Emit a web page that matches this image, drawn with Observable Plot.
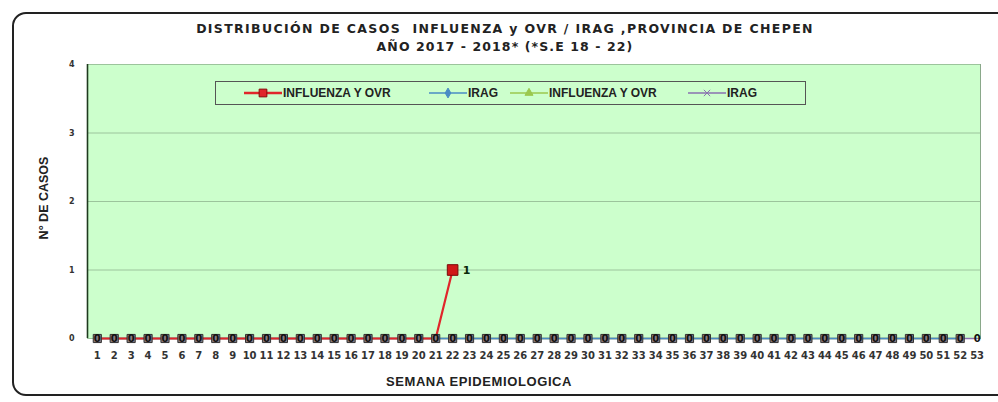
<!DOCTYPE html>
<html><head><meta charset="utf-8">
<script src="https://cdn.jsdelivr.net/npm/d3@7"></script>
<script src="https://cdn.jsdelivr.net/npm/@observablehq/plot@0.6"></script>
<style>
body{margin:0;background:#fff;}
#wrap{position:relative;width:998px;height:402px;overflow:hidden;font-family:"DejaVu Sans",sans-serif;}
#frame{position:absolute;left:12px;top:12px;width:1000px;height:384px;border:2px solid #222;border-radius:14px;box-sizing:border-box;}
.t{position:absolute;font-weight:bold;color:#222;white-space:nowrap;}
#legend{position:absolute;left:215px;top:81px;width:591px;height:24px;border:1.3px solid #555;box-sizing:border-box;background:#ccffcc;}
.li{position:absolute;top:4px;font-family:"Liberation Sans Narrow","Liberation Sans",sans-serif;font-weight:bold;font-size:12px;color:#222;display:flex;align-items:center;}
.li svg{margin-right:1px}
</style></head>
<body>
<div id="wrap">
  <div id="frame"></div>
  <div id="chart" style="position:absolute;left:0;top:0"></div>
  <div class="t" id="title1" style="left:0;width:1010px;text-align:center;top:21px;font-size:12.5px;letter-spacing:1.35px;font-family:'DejaVu Sans',sans-serif;">DISTRIBUCIÓN DE CASOS&nbsp; INFLUENZA y OVR / IRAG ,PROVINCIA DE CHEPEN</div>
  <div class="t" id="title2" style="left:0;width:1010px;text-align:center;top:39px;font-size:12.5px;letter-spacing:1.1px;">AÑO 2017 - 2018* (*S.E 18 - 22)</div>
  <div class="t" style="left:44px;top:198px;font-size:12.5px;font-family:'Liberation Sans',sans-serif;transform:translate(-50%,-50%) rotate(-90deg);transform-origin:center;position:absolute;">N° DE CASOS</div>
  <div class="t" style="left:0;width:958px;text-align:center;top:374px;font-size:13px;font-family:'Liberation Sans',sans-serif;letter-spacing:0.6px;">SEMANA EPIDEMIOLOGICA</div>
  <div id="legend"></div>
</div>
<script>
const weeks = d3.range(1, 54);
const seriesNames = ["INFLUENZA Y OVR", "IRAG", "INFLUENZA Y OVR", "IRAG"];
const seriesColors = ["#e0262b", "#4a8cc4", "#9bc84f", "#8a72b0"];
// 2018 INFLUENZA Y OVR (weeks 1-22)
const influenza2018 = [0,0,0,0,0,0,0,0,0,0,0,0,0,0,0,0,0,0,0,0,0,1];
// 2018 IRAG (weeks 1-52)
const irag2018 = [0,0,0,0,0,0,0,0,0,0,0,0,0,0,0,0,0,0,0,0,0,0,0,0,0,0,0,0,0,0,0,0,0,0,0,0,0,0,0,0,0,0,0,0,0,0,0,0,0,0,0,0];
// 2017 INFLUENZA Y OVR (weeks 1-52)
const influenza2017 = [0,0,0,0,0,0,0,0,0,0,0,0,0,0,0,0,0,0,0,0,0,0,0,0,0,0,0,0,0,0,0,0,0,0,0,0,0,0,0,0,0,0,0,0,0,0,0,0,0,0,0,0];
// 2017 IRAG (weeks 1-53)
const irag2017 = [0,0,0,0,0,0,0,0,0,0,0,0,0,0,0,0,0,0,0,0,0,0,0,0,0,0,0,0,0,0,0,0,0,0,0,0,0,0,0,0,0,0,0,0,0,0,0,0,0,0,0,0,0];
const yTicks = [0,1,2,3,4];

const toRows = (vals, s) => vals.map((v, i) => ({week: weeks[i], value: v, s}));
const rows = [toRows(influenza2018,0), toRows(irag2018,1), toRows(influenza2017,2), toRows(irag2017,3)];
const zeroMarkers = rows[1];
const labelZeros = rows[3];
const labelOnes = rows[0].filter(d => d.value > 0);

const plot = Plot.plot({
  width: 998, height: 402,
  marginLeft: 87, marginRight: 18, marginTop: 64, marginBottom: 64,
  style: {background: "transparent", fontFamily: "DejaVu Sans, sans-serif", overflow: "visible"},
  x: {type: "linear", domain: [0.42, 53.2]},
  y: {domain: [0, 4]},
  marks: [
    Plot.frame({fill: "#ccffcc", stroke: "#8aa88a"}),
    Plot.gridY(yTicks, {stroke: "#9cc49c", strokeOpacity: 1, strokeWidth: 1}),
    Plot.ruleX([0.42], {stroke: "#1e3a1e", strokeWidth: 1.6}),
    Plot.axisY(yTicks, {tickSize: 0, tickPadding: 13, fontSize: 8, fontWeight: "bold", color: "#333", label: null, tickFormat: d => d}),
    Plot.axisX(weeks, {tickSize: 0, tickPadding: 13, fontSize: 10, fontWeight: "bold", color: "#333", label: null, tickFormat: d => d}),
    // lines
    Plot.line(rows[3], {x: "week", y: "value", stroke: seriesColors[3], strokeWidth: 1.5}),
    Plot.line(rows[2], {x: "week", y: "value", stroke: seriesColors[2], strokeWidth: 1.5}),
    Plot.line(rows[1], {x: "week", y: "value", stroke: seriesColors[1], strokeWidth: 1.5}),
    Plot.line(rows[0], {x: "week", y: "value", stroke: seriesColors[0], strokeWidth: 2.2}),
    // markers
    Plot.dot(zeroMarkers, {x: "week", y: "value", symbol: "square", r: 4.6, fill: "#8a7c82", stroke: "#333", strokeWidth: 1}),
    Plot.dot(rows[0].filter(d => d.value > 0), {x: "week", y: "value", symbol: "square", r: 6, fill: "#d01818", stroke: "#7a0a0a", strokeWidth: 1}),
    // data labels
    Plot.text(labelZeros, {x: "week", y: "value", text: d => String(d.value), fontSize: 10, fontWeight: "bold", fill: "#111"}),
    Plot.text(labelOnes, {x: "week", y: "value", text: d => String(d.value), dx: 14, fontSize: 11, fontWeight: "bold", fill: "#0a2a0a"})
  ]
});
document.getElementById("chart").appendChild(plot);

// legend
const lg = document.getElementById("legend");
const legendX = [28, 213, 294, 472];
seriesNames.forEach((name, i) => {
  const div = document.createElement("div");
  div.className = "li";
  div.style.left = legendX[i] + "px";
  const sym = d3.symbol(i === 0 ? d3.symbolSquare : i === 1 ? d3.symbolDiamond : i === 2 ? d3.symbolTriangle : d3.symbolTimes, i === 0 ? 60 : 28)();
  div.innerHTML = `<svg width="38" height="14"><line x1="0" x2="38" y1="7" y2="7" stroke="${seriesColors[i]}" stroke-width="${i===0?2.5:1.6}"/><path d="${sym}" transform="translate(19,7)" fill="${seriesColors[i]}" stroke="${i===0?'#8a0a0a':seriesColors[i]}"/></svg><span>${name}</span>`;
  lg.appendChild(div);
});
</script>
</body></html>
